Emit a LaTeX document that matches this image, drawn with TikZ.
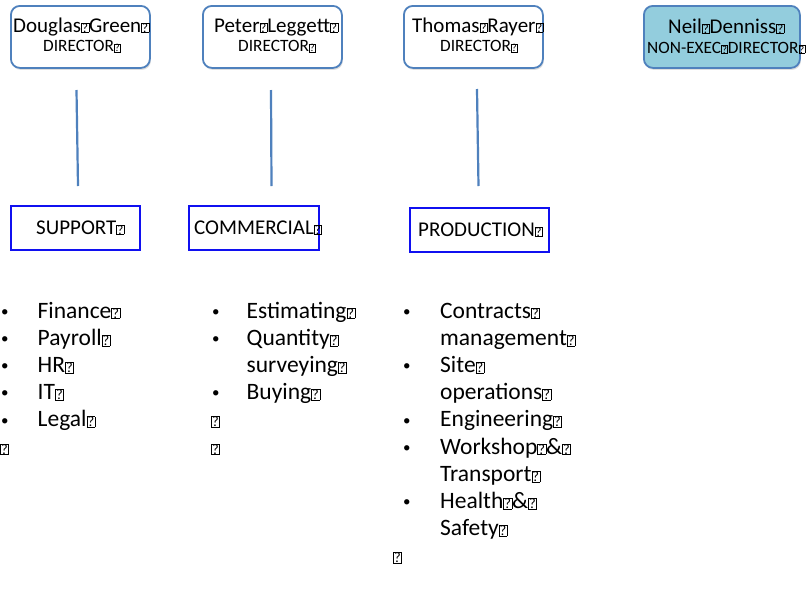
\documentclass[tikz,border=0pt]{standalone}
\usepackage{fontspec}
\setmainfont{Carlito}
\usepackage{graphicx}
\usetikzlibrary{shadows}
\definecolor{dirblue}{HTML}{4F81BD}
\definecolor{deptblue}{HTML}{1010F0}
\definecolor{neilfill}{HTML}{93CDDD}
\newcommand\qb{{\fboxsep=0.2pt\fboxrule=0.35pt\fbox{\makebox[0.32em]{\resizebox{!}{0.42em}{?}}}}}
\newcommand\fsz[1]{\fontsize{#1}{#1}\selectfont}
\newcommand\bul{{\fontsize{15}{15}\selectfont\raisebox{0.12em}{•}}}
\tikzset{
  dirbox/.style={draw=dirblue, line width=1.8pt, rounded corners=9pt, fill=white,
    anchor=north west, inner sep=0pt,
    drop shadow={opacity=0.25, shadow xshift=1pt, shadow yshift=-2pt}},
  deptbox/.style={draw=deptblue, line width=1.6pt, fill=white, anchor=north west, inner sep=0pt,
    drop shadow={opacity=0.2, shadow xshift=1pt, shadow yshift=-1.5pt}},
  nametext/.style={anchor=base west, inner sep=0pt, font=\fsz{21}},
  roletext/.style={anchor=base west, inner sep=0pt, font=\fsz{17.3}},
  depttext/.style={anchor=base west, inner sep=0pt, font=\fsz{21}},
  listtext/.style={anchor=base west, inner sep=0pt, font=\fontsize{23.5}{27.2}\selectfont},
  link/.style={draw=dirblue, line width=2.2pt}
}
\begin{document}
\begin{tikzpicture}[x=1pt,y=-1pt]
\useasboundingbox[fill=white] (0,0) rectangle (807,595);
% director boxes
\node[dirbox, minimum width=139pt, minimum height=62pt] (bDG) at (10,5) {};
\node[dirbox, minimum width=139pt, minimum height=62pt] (bPL) at (202,5) {};
\node[dirbox, minimum width=139pt, minimum height=62pt] (bTR) at (403,5) {};
\node[dirbox, fill=neilfill, minimum width=156pt, minimum height=62pt] (bND) at (643,5) {};
\node[nametext] (tDG) at (13,32) {Douglas\qb Green\qb};
\node[roletext] (rDG) at (43,51.5) {DIRECTOR\qb};
\node[nametext] (tPL) at (214,32) {Peter\qb Leggett\qb};
\node[roletext] (rPL) at (238,51.5) {DIRECTOR\qb};
\node[nametext] (tTR) at (412,32) {Thomas\qb Rayer\qb};
\node[roletext] (rTR) at (440,51.5) {DIRECTOR\qb};
\node[nametext] (tND) at (668,33) {Neil\qb Denniss\qb};
\node[roletext] (rND) at (647,53) {NON-EXEC\qb DIRECTOR\qb};
% connectors (free-standing)
\coordinate (l1a) at (76.5,90); \coordinate (l1b) at (78,186);
\coordinate (l2a) at (271,90);  \coordinate (l2b) at (271.5,186);
\coordinate (l3a) at (477,89);  \coordinate (l3b) at (478.5,186);
\draw[link] (l1a) -- (l1b);
\draw[link] (l2a) -- (l2b);
\draw[link] (l3a) -- (l3b);
% department boxes
\node[deptbox, minimum width=129pt, minimum height=44pt] (bSUP) at (10,205) {};
\node[deptbox, minimum width=130pt, minimum height=44pt] (bCOM) at (188,205) {};
\node[deptbox, minimum width=139pt, minimum height=44pt] (bPRO) at (409,207) {};
\node[depttext] (tSUP) at (36,234) {SUPPORT\qb};
\node[depttext] (tCOM) at (194,234) {COMMERCIAL\qb};
\node[depttext] (tPRO) at (418,236) {PRODUCTION\qb};
% lists
\node[listtext] (list1) at (0,318) {\begin{tabular}[t]{@{}p{37.5pt}@{}l@{}}
\hspace{1pt}\bul & Finance\qb\\
\hspace{1pt}\bul & Payroll\qb\\
\hspace{1pt}\bul & HR\qb\\
\hspace{1pt}\bul & IT\qb\\
\hspace{1pt}\bul & Legal\qb\\
\multicolumn{2}{@{}l@{}}{\qb}
\end{tabular}};
\node[listtext] (list2) at (211,318) {\begin{tabular}[t]{@{}p{35.5pt}@{}l@{}}
\hspace{1pt}\bul & Estimating\qb\\
\hspace{1pt}\bul & Quantity\qb\\
  & surveying\qb\\
\hspace{1pt}\bul & Buying\qb\\
\multicolumn{2}{@{}l@{}}{\qb}\\
\multicolumn{2}{@{}l@{}}{\qb}
\end{tabular}};
\node[listtext] (list3) at (393,318) {\begin{tabular}[t]{@{}p{47pt}@{}l@{}}
\hspace{10pt}\bul & Contracts\qb\\
  & management\qb\\
\hspace{10pt}\bul & Site\qb\\
  & operations\qb\\
\hspace{10pt}\bul & Engineering\qb\\
\hspace{10pt}\bul & Workshop\qb\&\qb\\
  & Transport\qb\\
\hspace{10pt}\bul & Health\qb\&\qb\\
  & Safety\qb\\
\multicolumn{2}{@{}l@{}}{\qb}
\end{tabular}};
\end{tikzpicture}
\end{document}
